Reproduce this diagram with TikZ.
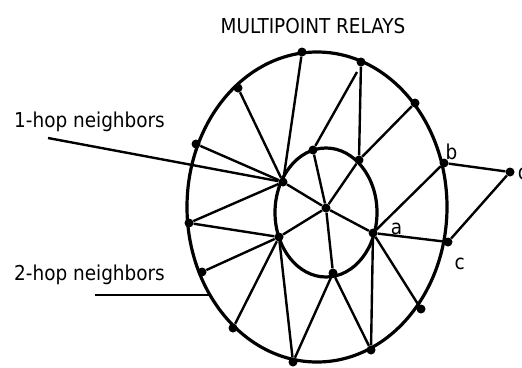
\documentclass[tikz,border=0pt]{standalone}
\usepackage{fontspec}
\setsansfont{DejaVu Sans Condensed}
\tikzset{
  relay/.style={circle, fill=black, inner sep=0pt, minimum size=9pt},
  link/.style={line width=2.4pt},
  ring/.style={line width=3.2pt},
  tag/.style={font=\sffamily\fontsize{20.5}{24}\selectfont, inner sep=0pt},
}
\begin{document}
\begin{tikzpicture}[x=1pt, y=-1pt]
  \useasboundingbox (0,0) rectangle (522,367);
  % the two rings
  \draw[ring] (317,207) ellipse [x radius=130, y radius=155];
  \draw[ring] (326,212.5) ellipse [x radius=51, y radius=64.5];
  % texts
  \node[tag] (title) at (313,26) {MULTIPOINT RELAYS};
  \node[tag, anchor=west] (one) at (14,122) {1-hop neighbors};
  \node[tag, anchor=west] (two) at (14,275) {2-hop neighbors};
  % inner ring
  \node[relay] (m) at (326,208) {};
  \node[relay] (i1) at (313,150) {};
  \node[relay] (i2) at (359,160) {};
  \node[relay] (i3) at (283,182) {};
  \node[relay, label={[tag, label distance=13pt, yshift=4pt]right:a}] (a) at (373,233) {};
  \node[relay] (i5) at (279,237) {};
  \node[relay] (i6) at (333,273) {};
  % outer ring
  \node[relay] (o1) at (302,52) {};
  \node[relay] (o2) at (361,62) {};
  \node[relay] (o3) at (415,103) {};
  \node[relay, label={[tag, label distance=0pt, xshift=-2pt]above right:b}] (b) at (444,163) {};
  \node[relay, label={[tag, label distance=17pt, xshift=-9pt]below right:c}] (c) at (448,242) {};
  \node[relay] (o6) at (421,309) {};
  \node[relay] (o7) at (371,350) {};
  \node[relay] (o8) at (293,362) {};
  \node[relay] (o9) at (233,328) {};
  \node[relay] (o10) at (202,272) {};
  \node[relay] (o11) at (189,223) {};
  \node[relay] (o12) at (196,144) {};
  \node[relay] (o13) at (238,88) {};
  \node[relay, label={[tag, label distance=3pt]right:d}] (d) at (510,172) {};
  % free ends
  \coordinate (s1) at (357,72);
  \coordinate (l1) at (48,138);
  \coordinate (l2) at (95,295);
  \coordinate (l2e) at (209,295);
  \foreach \u/\v in {i3/o13, i3/o1, i3/o12, i3/o11, i3/m, m/i1, m/i6, m/i2, m/a, m/i5,
                     i5/o11, i5/o10, i5/o9, i5/o8, i6/o8, i6/o7, a/o7, a/o6, a/c, a/b,
                     i2/o2, i2/o3, b/d, d/c, i1/s1}
    \draw[link] (\u) -- (\v);
  \draw[link] (l1) -- (i3);
  \draw[link] (l2) -- (l2e);
\end{tikzpicture}
\end{document}
